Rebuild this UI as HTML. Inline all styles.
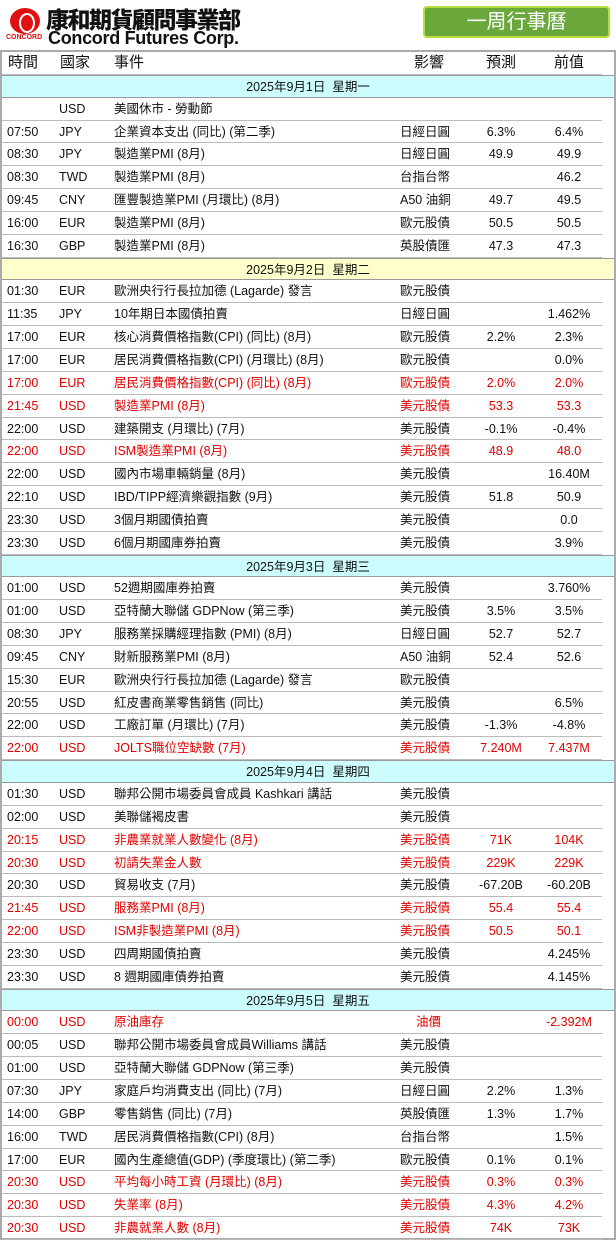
<!DOCTYPE html>
<html><head><meta charset="utf-8"><style>
*{margin:0;padding:0;box-sizing:border-box}
body{width:616px;height:1241px;background:#fff;font-family:"Liberation Sans","Noto Sans CJK TC",sans-serif;font-size:12.5px;color:#111;position:relative;overflow:hidden}
.logo{position:absolute;left:10px;top:8px;width:30px;height:26px;border-radius:50%;background:#e01010}
.logo:after{content:"";position:absolute;left:9px;top:5px;width:12px;height:16px;border-radius:50%;border:2px solid #fff}
.cc{position:absolute;left:6px;top:34px;font-size:7px;font-weight:bold;color:#e01010}
.cn{position:absolute;left:46px;top:5px;font-size:23px;font-weight:900;letter-spacing:-1.5px;line-height:26px;font-family:"Noto Sans CJK TC",sans-serif}
.en{position:absolute;left:48px;top:30px;font-size:18px;font-weight:bold;line-height:16px;font-family:"Liberation Sans",sans-serif;letter-spacing:-0.3px}
.btn{position:absolute;left:423px;top:6px;width:187px;height:32px;background:#6aa83b;border:2px solid #b5de3c;border-radius:4px;color:#fff;font-size:20px;text-align:center;line-height:28px}
.tbl{position:absolute;left:0;top:50px;width:616px;height:1190px;border:2px solid #aaa;border-top:2px solid #aaa}
.r{position:relative;height:22.85px;line-height:22.85px;white-space:nowrap}
.r:after{content:"";position:absolute;left:0;right:12px;bottom:0;height:1px;background:#bbb}
.r span{position:absolute}
.t{left:5px}.c{left:57px}.e{left:112px}.i{left:398px}.f{left:452px;width:94px;text-align:center}.p{left:520px;width:94px;text-align:center}
.h{font-size:15px}
.h .t{left:6px}.h .c{left:58px}.h .e{left:112px}.h .i{left:412px}.h .f{left:452px}.h .p{left:520px}
.d{height:22.85px;line-height:22.85px;text-align:center;background:#ccfcfd;border-top:1px solid #999;border-bottom:1px solid #999;font-size:12.5px}
.y{background:#ffffcc}
.red{color:#e00000}
</style></head><body>
<div class="logo"></div><div class="cc">CONCORD</div>
<div class="cn">康和期貨顧問事業部</div>
<div class="en">Concord Futures Corp.</div>
<div class="btn">一周行事曆</div>
<div class="tbl">
<div class="r h"><span class="t">時間</span><span class="c">國家</span><span class="e">事件</span><span class="i">影響</span><span class="f">預測</span><span class="p">前值</span></div>
<div class="d">2025年9月1日&nbsp; 星期一</div>
<div class="r"><span class="t"></span><span class="c">USD</span><span class="e">美國休市 - 勞動節</span></div>
<div class="r"><span class="t">07:50</span><span class="c">JPY</span><span class="e">企業資本支出 (同比) (第二季)</span><span class="i">日經日圓</span><span class="f">6.3%</span><span class="p">6.4%</span></div>
<div class="r"><span class="t">08:30</span><span class="c">JPY</span><span class="e">製造業PMI (8月)</span><span class="i">日經日圓</span><span class="f">49.9</span><span class="p">49.9</span></div>
<div class="r"><span class="t">08:30</span><span class="c">TWD</span><span class="e">製造業PMI (8月)</span><span class="i">台指台幣</span><span class="f"></span><span class="p">46.2</span></div>
<div class="r"><span class="t">09:45</span><span class="c">CNY</span><span class="e">匯豐製造業PMI (月環比) (8月)</span><span class="i">A50 油銅</span><span class="f">49.7</span><span class="p">49.5</span></div>
<div class="r"><span class="t">16:00</span><span class="c">EUR</span><span class="e">製造業PMI (8月)</span><span class="i">歐元股債</span><span class="f">50.5</span><span class="p">50.5</span></div>
<div class="r"><span class="t">16:30</span><span class="c">GBP</span><span class="e">製造業PMI (8月)</span><span class="i">英股債匯</span><span class="f">47.3</span><span class="p">47.3</span></div>
<div class="d y">2025年9月2日&nbsp; 星期二</div>
<div class="r"><span class="t">01:30</span><span class="c">EUR</span><span class="e">歐洲央行行長拉加德 (Lagarde) 發言</span><span class="i">歐元股債</span></div>
<div class="r"><span class="t">11:35</span><span class="c">JPY</span><span class="e">10年期日本國債拍賣</span><span class="i">日經日圓</span><span class="p">1.462%</span></div>
<div class="r"><span class="t">17:00</span><span class="c">EUR</span><span class="e">核心消費價格指數(CPI) (同比) (8月)</span><span class="i">歐元股債</span><span class="f">2.2%</span><span class="p">2.3%</span></div>
<div class="r"><span class="t">17:00</span><span class="c">EUR</span><span class="e">居民消費價格指數(CPI) (月環比) (8月)</span><span class="i">歐元股債</span><span class="p">0.0%</span></div>
<div class="r red"><span class="t">17:00</span><span class="c">EUR</span><span class="e">居民消費價格指數(CPI) (同比) (8月)</span><span class="i">歐元股債</span><span class="f">2.0%</span><span class="p">2.0%</span></div>
<div class="r red"><span class="t">21:45</span><span class="c">USD</span><span class="e">製造業PMI (8月)</span><span class="i">美元股債</span><span class="f">53.3</span><span class="p">53.3</span></div>
<div class="r"><span class="t">22:00</span><span class="c">USD</span><span class="e">建築開支 (月環比) (7月)</span><span class="i">美元股債</span><span class="f">-0.1%</span><span class="p">-0.4%</span></div>
<div class="r red"><span class="t">22:00</span><span class="c">USD</span><span class="e">ISM製造業PMI (8月)</span><span class="i">美元股債</span><span class="f">48.9</span><span class="p">48.0</span></div>
<div class="r"><span class="t">22:00</span><span class="c">USD</span><span class="e">國內市場車輛銷量 (8月)</span><span class="i">美元股債</span><span class="p">16.40M</span></div>
<div class="r"><span class="t">22:10</span><span class="c">USD</span><span class="e">IBD/TIPP經濟樂觀指數 (9月)</span><span class="i">美元股債</span><span class="f">51.8</span><span class="p">50.9</span></div>
<div class="r"><span class="t">23:30</span><span class="c">USD</span><span class="e">3個月期國債拍賣</span><span class="i">美元股債</span><span class="p">0.0</span></div>
<div class="r"><span class="t">23:30</span><span class="c">USD</span><span class="e">6個月期國庫券拍賣</span><span class="i">美元股債</span><span class="p">3.9%</span></div>
<div class="d">2025年9月3日&nbsp; 星期三</div>
<div class="r"><span class="t">01:00</span><span class="c">USD</span><span class="e">52週期國庫券拍賣</span><span class="i">美元股債</span><span class="p">3.760%</span></div>
<div class="r"><span class="t">01:00</span><span class="c">USD</span><span class="e">亞特蘭大聯儲 GDPNow (第三季)</span><span class="i">美元股債</span><span class="f">3.5%</span><span class="p">3.5%</span></div>
<div class="r"><span class="t">08:30</span><span class="c">JPY</span><span class="e">服務業採購經理指數 (PMI) (8月)</span><span class="i">日經日圓</span><span class="f">52.7</span><span class="p">52.7</span></div>
<div class="r"><span class="t">09:45</span><span class="c">CNY</span><span class="e">財新服務業PMI (8月)</span><span class="i">A50 油銅</span><span class="f">52.4</span><span class="p">52.6</span></div>
<div class="r"><span class="t">15:30</span><span class="c">EUR</span><span class="e">歐洲央行行長拉加德 (Lagarde) 發言</span><span class="i">歐元股債</span></div>
<div class="r"><span class="t">20:55</span><span class="c">USD</span><span class="e">紅皮書商業零售銷售 (同比)</span><span class="i">美元股債</span><span class="p">6.5%</span></div>
<div class="r"><span class="t">22:00</span><span class="c">USD</span><span class="e">工廠訂單 (月環比) (7月)</span><span class="i">美元股債</span><span class="f">-1.3%</span><span class="p">-4.8%</span></div>
<div class="r red"><span class="t">22:00</span><span class="c">USD</span><span class="e">JOLTS職位空缺數 (7月)</span><span class="i">美元股債</span><span class="f">7.240M</span><span class="p">7.437M</span></div>
<div class="d">2025年9月4日&nbsp; 星期四</div>
<div class="r"><span class="t">01:30</span><span class="c">USD</span><span class="e">聯邦公開市場委員會成員 Kashkari 講話</span><span class="i">美元股債</span></div>
<div class="r"><span class="t">02:00</span><span class="c">USD</span><span class="e">美聯儲褐皮書</span><span class="i">美元股債</span></div>
<div class="r red"><span class="t">20:15</span><span class="c">USD</span><span class="e">非農業就業人數變化 (8月)</span><span class="i">美元股債</span><span class="f">71K</span><span class="p">104K</span></div>
<div class="r red"><span class="t">20:30</span><span class="c">USD</span><span class="e">初請失業金人數</span><span class="i">美元股債</span><span class="f">229K</span><span class="p">229K</span></div>
<div class="r"><span class="t">20:30</span><span class="c">USD</span><span class="e">貿易收支 (7月)</span><span class="i">美元股債</span><span class="f">-67.20B</span><span class="p">-60.20B</span></div>
<div class="r red"><span class="t">21:45</span><span class="c">USD</span><span class="e">服務業PMI (8月)</span><span class="i">美元股債</span><span class="f">55.4</span><span class="p">55.4</span></div>
<div class="r red"><span class="t">22:00</span><span class="c">USD</span><span class="e">ISM非製造業PMI (8月)</span><span class="i">美元股債</span><span class="f">50.5</span><span class="p">50.1</span></div>
<div class="r"><span class="t">23:30</span><span class="c">USD</span><span class="e">四周期國債拍賣</span><span class="i">美元股債</span><span class="p">4.245%</span></div>
<div class="r"><span class="t">23:30</span><span class="c">USD</span><span class="e">8 週期國庫債券拍賣</span><span class="i">美元股債</span><span class="p">4.145%</span></div>
<div class="d">2025年9月5日&nbsp; 星期五</div>
<div class="r red"><span class="t">00:00</span><span class="c">USD</span><span class="e">原油庫存</span><span class="i" style="left:414px">油價</span><span class="p">-2.392M</span></div>
<div class="r"><span class="t">00:05</span><span class="c">USD</span><span class="e">聯邦公開市場委員會成員Williams 講話</span><span class="i">美元股債</span></div>
<div class="r"><span class="t">01:00</span><span class="c">USD</span><span class="e">亞特蘭大聯儲 GDPNow (第三季)</span><span class="i">美元股債</span></div>
<div class="r"><span class="t">07:30</span><span class="c">JPY</span><span class="e">家庭戶均消費支出 (同比) (7月)</span><span class="i">日經日圓</span><span class="f">2.2%</span><span class="p">1.3%</span></div>
<div class="r"><span class="t">14:00</span><span class="c">GBP</span><span class="e">零售銷售 (同比) (7月)</span><span class="i">英股債匯</span><span class="f">1.3%</span><span class="p">1.7%</span></div>
<div class="r"><span class="t">16:00</span><span class="c">TWD</span><span class="e">居民消費價格指數(CPI) (8月)</span><span class="i">台指台幣</span><span class="p">1.5%</span></div>
<div class="r"><span class="t">17:00</span><span class="c">EUR</span><span class="e">國內生產總值(GDP) (季度環比) (第二季)</span><span class="i">歐元股債</span><span class="f">0.1%</span><span class="p">0.1%</span></div>
<div class="r red"><span class="t">20:30</span><span class="c">USD</span><span class="e">平均每小時工資 (月環比) (8月)</span><span class="i">美元股債</span><span class="f">0.3%</span><span class="p">0.3%</span></div>
<div class="r red"><span class="t">20:30</span><span class="c">USD</span><span class="e">失業率 (8月)</span><span class="i">美元股債</span><span class="f">4.3%</span><span class="p">4.2%</span></div>
<div class="r red"><span class="t">20:30</span><span class="c">USD</span><span class="e">非農就業人數 (8月)</span><span class="i">美元股債</span><span class="f">74K</span><span class="p">73K</span></div>
</div>
</body></html>
